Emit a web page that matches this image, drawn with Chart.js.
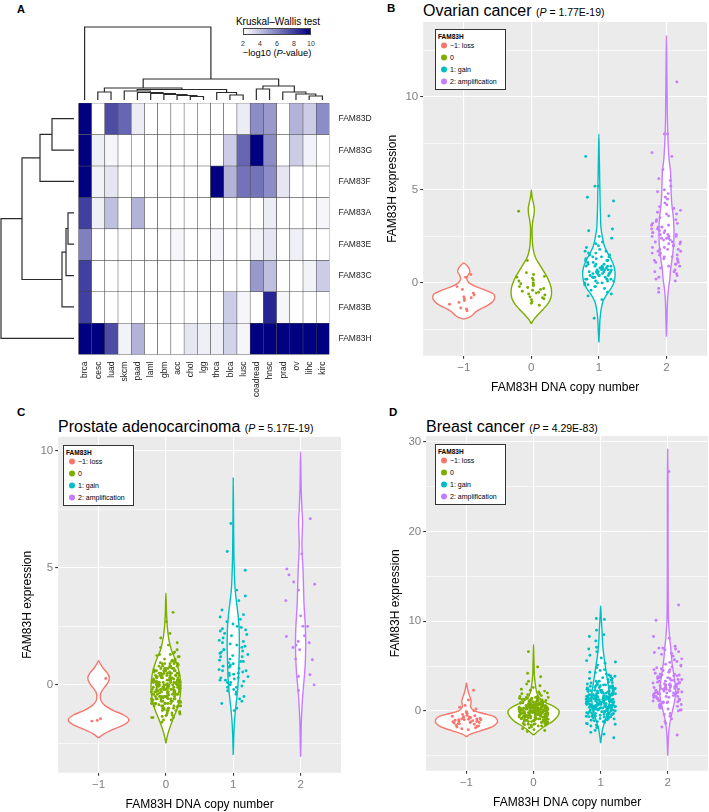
<!DOCTYPE html>
<html><head><meta charset="utf-8"><title>FAM83 figure</title>
<script src="https://cdn.jsdelivr.net/npm/chart.js@4.4.1/dist/chart.umd.min.js"></script>
<style>
html,body{margin:0;padding:0;background:#fff}
body{position:relative;width:709px;height:812px;overflow:hidden;font-family:"Liberation Sans",Arial,Helvetica,sans-serif;color:#000}
canvas{position:absolute;left:0;top:0}
.txt{position:absolute;white-space:nowrap;line-height:1}
.letter{font-weight:bold}
.legend{position:absolute;background:#fff;border:1px solid #333;box-sizing:border-box}
.lgt{position:absolute;left:2px;top:4px;font-size:6.5px;font-weight:bold;line-height:1}
.lgi{position:absolute;left:5px;font-size:7px;line-height:1;transform:translateY(-50%);white-space:nowrap}
.dot{display:inline-block;width:6px;height:6px;border-radius:50%;margin-right:3px;vertical-align:middle;position:relative;top:-1px}
.cbar{position:absolute;left:243px;top:28px;width:68px;height:7px;box-sizing:border-box;border:1px solid #444;background:linear-gradient(to right,#ffffff,#000080)}
.cb{transform:translateX(-50%)}
</style></head><body>

<div class="txt letter" style="left:17px;top:4px;font-size:11px">A</div>
<div class="txt letter" style="left:387px;top:2.5px;font-size:11.5px">B</div>
<div class="txt letter" style="left:17px;top:406.5px;font-size:11.5px">C</div>
<div class="txt letter" style="left:389px;top:406.5px;font-size:11.5px">D</div>

<div class="txt" style="left:423px;top:3px"><span style="font-size:16px">Ovarian cancer</span> <span style="font-size:10.5px">(<i>P</i> = 1.77E-19)</span></div>
<div class="txt" style="left:58px;top:418.6px"><span style="font-size:16px">Prostate adenocarcinoma</span> <span style="font-size:10.5px">(<i>P</i> = 5.17E-19)</span></div>
<div class="txt" style="left:426px;top:418.6px"><span style="font-size:16px">Breast cancer</span> <span style="font-size:10.5px">(<i>P</i> = 4.29E-83)</span></div>

<div class="txt cb" style="left:278px;top:17px;font-size:10px">Kruskal–Wallis test</div>
<div class="cbar"></div>
<div id="cbticks"></div>
<div class="txt cb" style="left:277px;top:49px;font-size:9.3px">−log10 (<i>P</i>-value)</div>

<canvas id="dendTop" width="251" height="75"></canvas>
<canvas id="dendLeft" width="74" height="251"></canvas>
<canvas id="heat" width="320" height="320"></canvas>
<canvas id="ovarian" width="340" height="390"></canvas>
<canvas id="prostate" width="340" height="390"></canvas>
<canvas id="breast" width="340" height="390"></canvas>

<script>
// ---------------- DATA ----------------
const heatColumns = ['brca','cesc','luad','skcm','paad','laml','gbm','acc','chol','lgg','thca','blca','lusc','coadread','hnsc','prad','ov','lihc','kirc'];
const heatRows = ['FAM83D','FAM83G','FAM83F','FAM83A','FAM83E','FAM83C','FAM83B','FAM83H'];
// -log10(P-value) of Kruskal-Wallis test, per gene (row) and cancer type (column)
const fam83D = [10, 2, 7.6, 6.8, 2.6, 2, 2, 2, 2, 2, 2, 2, 2.6, 5.6, 5.2, 2, 4.4, 3.6, 5.6];
const fam83G = [10, 2.5, 2.3, 2, 2, 2, 2, 2, 2, 2, 2, 3.6, 6.8, 10, 5.6, 2, 3.6, 2.4, 2];
const fam83F = [10, 2.4, 2.8, 2, 2, 2, 2, 2, 2, 2, 10, 4.4, 6.4, 6.4, 5.6, 2.8, 2, 2, 2];
const fam83A = [8, 2.5, 4, 2, 4.4, 2, 2, 2, 2, 2, 2, 2, 2, 2, 2.6, 2, 2, 2, 2.3];
const fam83E = [6, 2, 2, 2, 2, 2, 2, 2.3, 2, 2, 2.3, 2, 2, 2.4, 2.8, 2, 2.5, 2, 2];
const fam83C = [8, 2, 2, 2, 2, 2, 2, 2, 2, 2, 2, 2, 2, 5.2, 4, 2, 2, 2.4, 3.6];
const fam83B = [8, 2, 2, 2, 2, 2, 2, 2, 2, 2, 2, 3.6, 2.3, 2, 8.8, 2.3, 2, 2, 2];
const fam83H = [10, 10, 7.6, 2.4, 4.4, 2, 2, 2, 2.8, 2.5, 2.5, 3.4, 2.3, 10, 10, 10, 10, 10, 10];
const colorbarTicks = [2, 4, 6, 8, 10];
// dendrogram merges: [childA, childB, height]; child >= 0 is a leaf index, child < 0 is merge number -(k+1)
const columnMerges = [[17,18,4],[16,-1,6],[15,-2,8],[13,14,11],[-4,-3,14],[11,12,5],[10,-6,7.5],[8,9,3.5],[7,-8,4.5],[6,-9,5.5],[5,-10,6.5],[4,-11,7.5],[3,-12,9],[-13,-7,10.5],[1,2,8],[-15,-14,12],[-16,-5,21],[0,-17,73]];
const rowMerges = [[0,1,22],[-1,2,34],[3,4,6],[-3,5,8],[-4,6,12],[-2,-5,52],[-6,7,73]];

const copyNumbers = [-1, 0, 1, 2];
const groupLabels = ['\u22121: loss', '0', '1: gain', '2: amplification'];

// ---- Ovarian cancer (B): FAM83H expression per copy-number group ----
const ovarianLoss = [0.45,0.3,-0.35,-0.2,-0.55,-0.8,-0.75,-0.95,-0.85,-1.15,-1.4,-1.5,-1.35,-0.65,-1.05];
const ovarianNeutral = [3.85,1.2,0.55,0.35,0.25,0.15,0.0,-0.1,-0.15,-0.25,-0.3,-0.35,-0.45,-0.5,-0.55,-0.65,-0.75,-0.85,-0.9,-1.0,-1.1,-0.2,0.1,-0.6,-0.8,0.45,-0.05,-0.4,-1.2,0.3];
const ovarianGain = [0.6,1.4,0.2,2.2,0.9,-0.3,1.1,0.5,6.8,0.3,1.7,0.8,-0.1,1.3,0.4,5.2,0.7,2.8,0.0,1.0,0.5,-0.5,1.5,0.6,0.2,4.4,0.9,1.2,-0.2,0.8,3.6,0.4,1.6,0.1,0.7,2.4,-0.7,1.0,0.3,5.2,0.6,1.9,0.2,-0.4,1.3,0.5,0.9,2.1,0.0,1.1,0.4,-0.9,0.7,1.5,0.3,4.6,0.8,1.8,0.1,-0.2,1.2,0.6,2.9,0.5,0.9,-1.9,1.4,0.2,0.7,1.7,0.3,2.5,0.4,-0.6,1.0,0.8,0.1,1.6,0.6,-0.1,0.5,1.2,0.9,0.3,1.4,0.7,2.0,0.0];
const ovarianAmp = [2.5,1.8,3.2,0.6,4.1,2.2,1.4,2.9,3.7,0.9,2.0,5.5,1.6,2.7,3.0,0.3,4.6,2.4,1.1,3.4,8.0,2.1,1.9,0.7,2.8,3.9,1.3,2.6,4.8,-0.5,2.3,1.7,3.1,0.5,5.2,2.0,1.5,3.6,2.9,1.0,4.3,2.5,0.8,3.3,1.2,6.8,2.2,1.8,3.0,0.2,4.0,2.7,1.6,3.5,2.4,7.0,1.4,2.6,0.9,5.0,3.2,1.9,2.1,0.4,4.5,2.8,1.3,3.8,10.8,2.3,1.1,3.1,0.6,2.0,5.6,1.7,2.9,8.0,3.4,1.5,2.5,-0.3,4.2,2.2,1.0,3.7,2.6,0.1,6.1,1.8,2.4,3.0,1.2,4.9,2.7];
// violin outlines: [expression, half-width in copy-number units]
const ovarianViolinLoss = [[-1.95,0],[-1.85,0.08],[-1.7,0.14],[-1.55,0.18],[-1.4,0.25],[-1.2,0.36],[-1.0,0.43],[-0.8,0.46],[-0.6,0.44],[-0.4,0.33],[-0.2,0.18],[0,0.08],[0.2,0.045],[0.4,0.06],[0.6,0.09],[0.8,0.075],[0.95,0.04],[1.07,0]];
const ovarianViolinNeutral = [[-2.2,0],[-2.0,0.03],[-1.7,0.1],[-1.4,0.18],[-1.1,0.25],[-0.8,0.29],[-0.5,0.3],[-0.2,0.29],[0.1,0.26],[0.4,0.22],[0.7,0.17],[1.0,0.12],[1.3,0.07],[1.6,0.04],[2.0,0.02],[2.5,0.012],[3.0,0.012],[3.4,0.025],[3.7,0.04],[4.0,0.045],[4.3,0.03],[4.6,0.012],[5.0,0]];
const ovarianViolinGain = [[-3.2,0],[-2.5,0.01],[-2.0,0.015],[-1.5,0.03],[-1.0,0.06],[-0.6,0.12],[-0.3,0.18],[0,0.22],[0.4,0.24],[0.8,0.23],[1.2,0.19],[1.6,0.13],[2.0,0.08],[2.5,0.05],[3.0,0.03],[3.5,0.025],[4.0,0.02],[5.0,0.015],[6.0,0.01],[7.0,0.005],[8.0,0]];
const ovarianViolinAmp = [[-2.9,0],[-2,0.008],[-1,0.015],[-0.3,0.03],[0.2,0.05],[0.7,0.06],[1.2,0.08],[1.8,0.1],[2.4,0.11],[3.0,0.11],[3.6,0.1],[4.2,0.08],[4.8,0.07],[5.4,0.065],[6.0,0.06],[6.6,0.04],[7.5,0.025],[8.5,0.015],[10,0.01],[11.5,0.006],[13.3,0]];

// ---- Prostate adenocarcinoma (C) ----
const prostateLoss = [0.27,-1.45,-1.52,-1.55];
const prostateNeutral = [-0.1,0.4,-0.6,0.2,-1.1,0.0,0.7,-0.3,-0.8,0.3,1.2,-0.4,0.1,-1.4,0.5,-0.2,0.9,-0.7,0.0,-0.5,
0.6,-0.9,0.2,-0.1,1.5,-0.3,0.4,-1.2,0.1,-0.6,0.8,-0.2,-1.0,0.3,0.0,-0.4,1.1,-0.8,0.5,-0.1,
-1.5,0.2,-0.5,0.7,-0.3,0.1,-0.9,1.3,-0.2,0.4,-0.7,0.0,0.6,-1.1,0.2,-0.4,0.9,-0.6,0.3,-0.1,
1.8,-0.8,0.1,-0.3,0.5,-1.3,0.0,0.7,-0.5,0.2,-0.2,1.0,-0.9,0.4,-0.1,-0.6,0.3,-1.0,0.8,0.1,
-0.4,0.6,-0.7,0.0,1.4,-0.2,0.2,-1.2,0.5,-0.3,0.9,-0.8,0.1,-0.5,0.3,-1.4,0.7,-0.1,0.4,-0.6,
2.0,-0.3,0.0,-0.9,0.5,-0.1,1.2,-0.7,0.2,-0.4,0.8,-1.1,0.3,-0.2,0.6,-0.5,0.1,-1.6,1.0,-0.8,
0.4,-0.1,0.7,-0.6,0.0,-1.0,0.3,-0.3,1.6,-0.9,0.2,-0.4,0.5,-0.7,0.1,-1.3,0.9,-0.2,0.6,-0.5,
-0.1,1.1,-0.8,0.3,-0.3,0.0,-1.2,0.7,-0.6,0.2,2.2,-0.4,0.4,-0.9,0.1,-0.2,0.8,-1.5,0.5,-0.7,
0.2,-0.5,1.3,-0.1,0.0,-1.0,0.6,-0.3,0.3,-0.8,0.9,-0.6,0.1,-1.1,0.4,-0.2,1.7,-0.4,0.0,-0.9,
0.5,-0.7,0.2,-1.3,0.8,-0.1,0.3,-0.5,1.0,-0.3,0.1,-1.4,0.6,-0.8,0.0,-0.2,2.7,-0.6,0.4,-1.0,
-0.15,0.35,-0.65,0.15,-1.05,0.05,0.75,-0.35,-0.85,0.25,1.25,-0.45,0.12,-1.25,0.55,-0.25,0.95,-0.75,-0.05,-0.55,
3.1,0.45,-0.95,0.65,-0.15,1.35,-0.55,0.05,-1.15,0.85,-0.35,0.25,-0.75,1.05,-0.05,0.15,-0.45,-1.35,0.55,-0.25];
const prostateGain = [6.9,5.7,4.9,4.05,3.8,3.6,3.2,3.0,2.9,2.7,2.8,2.5,2.4,2.3,2.2,2.6,2.1,2.0,1.9,1.8,1.7,1.6,1.5,1.5,1.4,1.3,1.2,1.2,1.1,1.0,1.0,0.9,0.8,0.8,0.7,0.6,0.6,0.5,0.5,0.4,0.3,0.3,0.2,0.2,0.1,0.1,0.0,0.0,-0.1,-0.1,-0.2,-0.3,-0.4,-0.5,-0.6,-0.8,-1.0,-1.1,0.35,0.75,1.35,1.65,2.15,0.15,-0.05,0.95,1.85,2.45,0.55,1.05,-0.25,0.45,1.45,2.35,0.85,0.25,-0.7,1.75,1.25,0.65];
const prostateAmp = [7.1,5.6,4.95,4.7,4.4,4.3,4.05,3.6,2.95,2.5,2.5,2.1,2.07,1.85,1.7,1.6,1.5,1.1,1.07,0.43,0.36,0.0,-0.24,1.8];
const prostateViolinLoss = [[-2.27,0],[-2.1,0.08],[-1.9,0.22],[-1.7,0.38],[-1.5,0.45],[-1.3,0.38],[-1.1,0.22],[-0.9,0.1],[-0.7,0.04],[-0.5,0.025],[-0.3,0.04],[-0.1,0.09],[0.1,0.14],[0.3,0.16],[0.5,0.13],[0.7,0.07],[0.9,0.025],[1.03,0]];
const prostateViolinNeutral = [[-2.5,0],[-2.2,0.02],[-1.9,0.05],[-1.5,0.1],[-1.0,0.17],[-0.5,0.21],[0,0.22],[0.5,0.2],[1.0,0.15],[1.5,0.08],[2.0,0.04],[2.5,0.02],[3.0,0.01],[3.5,0.005],[3.93,0]];
const prostateViolinGain = [[-3.0,0],[-2.5,0.005],[-2.0,0.01],[-1.5,0.02],[-1.0,0.035],[-0.5,0.055],[0,0.07],[0.5,0.08],[1.0,0.085],[1.5,0.09],[2.0,0.09],[2.5,0.085],[3.0,0.07],[3.5,0.05],[4.0,0.03],[4.5,0.02],[5.5,0.01],[7,0.005],[8.85,0]];
const prostateViolinAmp = [[-3.07,0],[-2.5,0.005],[-2,0.008],[-1.5,0.012],[-1,0.02],[-0.5,0.03],[0,0.045],[0.5,0.06],[1.0,0.07],[1.5,0.075],[2.0,0.075],[2.5,0.07],[3.0,0.06],[3.5,0.05],[4.0,0.045],[4.5,0.04],[5.0,0.035],[5.5,0.025],[6.0,0.02],[6.5,0.025],[7.0,0.03],[7.5,0.02],[8.5,0.008],[9.96,0]];

// ---- Breast cancer (D) ----
const breastLoss = [2.3,1.2,0.6,0.4,0.2,0.0,-0.2,-0.3,-0.5,-0.6,-0.7,-0.8,-0.8,-0.9,-0.9,-1.0,-1.0,-1.0,-1.1,-1.1,-1.2,-1.2,-1.3,-1.3,-1.4,-1.5,-1.6,-1.7,-1.8,-2.0,-2.1,-0.4,-0.65,-0.95,-1.05,-1.25,-0.85,-1.15,-1.45,-0.55,-1.75,-0.75,-1.35,-0.1,-1.9];
const breastNeutral = [0.1,-0.5,0.8,-1.2,0.3,-0.1,1.5,-0.8,0.5,0.0,-1.6,0.9,-0.3,0.2,1.2,-0.6,0.4,-1.0,0.7,-0.2,
0.0,1.9,-0.9,0.3,-0.4,0.6,-1.4,0.1,1.1,-0.7,0.4,-0.1,2.3,-1.1,0.2,-0.5,0.8,-0.2,1.4,-1.8,
0.5,-0.3,0.0,1.0,-0.8,0.2,-1.3,0.7,-0.1,1.6,-0.6,0.3,-2.0,0.9,-0.4,0.1,1.3,-1.0,0.6,0.0,
-0.7,2.6,0.2,-0.2,0.8,-1.5,0.4,-0.9,1.2,0.0,-0.3,0.5,-1.2,1.8,-0.5,0.3,-0.1,1.0,-2.2,0.6,
0.1,-0.6,1.4,-0.4,0.7,-1.1,0.2,2.0,-0.8,0.4,-0.2,0.9,-1.7,0.0,1.1,-0.5,0.5,-1.3,0.3,-0.1,
6.6,0.6,-0.9,1.5,-0.3,0.2,-1.4,0.8,-0.6,0.0,3.0,-1.0,0.4,-0.2,1.2,-0.7,0.1,-1.9,0.9,-0.4,
0.3,1.7,-1.2,0.5,-0.1,-0.8,1.0,0.2,-1.5,0.7,-0.3,2.4,-0.6,0.0,1.3,-1.1,0.4,-0.2,0.8,-2.3,
-0.4,0.6,1.6,-0.9,0.1,-0.5,0.9,-1.3,0.3,0.0,4.9,-0.7,1.1,-0.2,0.5,-1.6,0.2,2.1,-1.0,0.7,
0.0,-0.3,1.4,-0.8,0.4,-1.2,0.6,-0.1,1.9,-0.6,0.2,-1.7,0.8,-0.4,0.1,3.3,-0.9,0.5,-0.2,1.0,
-1.4,0.3,0.0,-0.5,1.2,-1.0,0.7,4.2,-0.3,0.2,-1.1,0.9,-0.7,0.4,1.5,-0.1,-2.1,0.6,0.1,-0.6,
0.15,-0.45,0.85,-1.15,0.35,-0.05,1.55,-0.75,0.55,0.05,-1.55,0.95,-0.25,0.25,1.25,-0.65,0.45,-0.95,0.75,-0.15,
3.8,0.05,2.2,-0.85,0.35,-0.35,0.65,-1.45,0.15,1.15,-0.55,0.45,-0.05,2.8,-1.05,0.25,-0.45,0.85,1.45,-1.25];
const breastGain = [1.2,0.3,2.5,-0.4,1.8,0.8,3.6,0.0,1.5,-1.1,2.1,0.5,4.3,1.0,-0.6,2.8,0.2,1.4,5.6,0.7,
-0.2,1.9,0.4,3.1,1.1,-1.5,2.4,0.6,1.6,-0.8,3.9,0.9,0.1,2.2,1.3,-0.3,6.2,0.5,1.7,-1.9,
2.9,0.8,1.2,-0.5,2.0,0.3,4.8,1.5,-0.1,2.6,0.7,1.0,-1.2,3.4,0.4,1.8,-0.7,2.3,0.0,7.1,
1.4,0.6,-0.9,2.7,1.1,0.2,3.8,-0.4,1.6,0.9,-2.2,2.1,0.5,1.3,5.1,-0.1,2.5,0.8,1.0,-1.4,
3.3,0.3,1.7,-0.6,2.0,0.7,4.5,1.2,-0.3,2.8,0.1,1.5,-1.0,3.0,0.9,1.9,8.5,0.4,2.3,-0.2,
1.1,-1.7,2.6,0.6,1.4,-0.5,3.7,0.2,1.8,0.8,-0.8,2.2,1.0,5.9,0.3,1.6,-0.1,2.9,0.5,1.3,
-1.3,4.1,0.7,2.0,-0.4,1.2,0.0,3.2,1.5,-2.6,2.4,0.4,1.7,0.9,6.6,-0.7,2.1,0.6,1.0,3.5,
0.2,1.4,-1.1,2.7,0.8,1.9,-0.2,4.0,1.1,0.5,-0.9,2.3,1.6,10.3,0.1,2.8,-0.5,1.3,0.7,3.1,
1.8,-1.6,0.3,2.5,1.0,-0.3,4.6,0.6,1.5,-0.7,2.0,0.9,7.8,1.2,-1.2,3.3,0.4,1.7,0.0,2.2,
0.8,5.3,-0.6,1.4,2.6,0.2,-1.8,1.9,0.5,3.6,1.1,-0.1,2.4,0.7,9.0,1.6,-0.4,2.9,0.3,1.3,
1.25,0.35,2.55,-0.45,1.85,0.85,3.45,0.05,1.55,-1.05,2.15,0.55,4.25,1.05,-0.65,2.75,0.25,1.45,5.45,0.75,
-0.25,1.95,0.45,3.15,1.15,-1.45,2.45,0.65,1.65,-0.85,3.85,0.95,0.15,2.25,1.35,10.2,6.9,8.3,-3.0,-2.4];
const breastAmp = [3.0,1.5,4.6,2.2,0.4,5.8,2.8,1.1,3.7,-0.6,2.5,6.4,1.8,3.3,0.9,4.1,2.0,7.0,1.3,3.9,
2.6,0.1,5.2,2.9,1.6,3.5,-1.2,4.4,2.3,0.7,6.8,2.1,3.1,1.0,4.9,2.7,0.3,3.6,1.9,5.5,
2.4,-0.3,4.0,3.2,1.2,6.1,2.0,0.8,3.8,1.4,7.2,2.6,-1.8,4.7,2.2,1.7,3.4,0.5,5.0,2.9,
11.8,1.5,3.0,0.0,4.3,2.5,6.6,1.1,3.5,-0.9,2.1,5.4,1.8,4.1,2.8,0.6,3.3,26.7,1.3,2.4,
8.3,3.7,0.2,4.8,2.0,1.6,6.3,2.7,-0.4,3.1,1.0,4.5,2.3,7.0,1.9,3.9,0.9,10.1,2.6,-2.7,
3.4,1.4,5.7,2.1,0.4,4.2,2.9,8.1,1.7,3.2,0.7,6.9,2.5,1.2,3.6,-1.4,4.6,2.2,1.9,3.0,
0.1,5.1,2.8,1.6,3.8,2.4,6.5,1.0,4.0,2.0];
const breastViolinLoss = [[-2.9,0],[-2.6,0.06],[-2.2,0.22],[-1.8,0.38],[-1.4,0.45],[-1.0,0.46],[-0.6,0.4],[-0.3,0.25],[0,0.12],[0.3,0.07],[0.6,0.06],[1.0,0.07],[1.4,0.06],[1.9,0.035],[2.5,0.015],[3.1,0]];
const breastViolinNeutral = [[-2.7,0],[-2.3,0.06],[-1.8,0.15],[-1.2,0.28],[-0.6,0.36],[0,0.38],[0.5,0.3],[1.0,0.16],[1.5,0.08],[2.0,0.05],[2.5,0.035],[3.0,0.025],[4,0.012],[5,0.008],[6,0.005],[7.4,0]];
const breastViolinGain = [[-3.6,0],[-3,0.01],[-2,0.03],[-1,0.07],[0,0.11],[1,0.13],[2,0.13],[3,0.11],[4,0.09],[5,0.07],[6,0.05],[7,0.035],[8,0.025],[9,0.02],[10,0.012],[11,0.005],[11.7,0]];
const breastViolinAmp = [[-5,0],[-4,0.005],[-3,0.01],[-2,0.02],[-1,0.04],[0,0.07],[1,0.1],[2,0.12],[3,0.11],[4,0.09],[5,0.07],[6,0.055],[7,0.045],[8,0.03],[9,0.02],[10,0.012],[12,0.008],[15,0.006],[20,0.005],[25,0.005],[29.2,0]];

// ---------------- RENDERING ----------------
Chart.defaults.font.family = '"Liberation Sans", Arial, Helvetica, sans-serif';
const ggColors = ['#F8766D', '#7CAE00', '#00BFC4', '#C77CFF'];
const heatValues = [fam83D, fam83G, fam83F, fam83A, fam83E, fam83C, fam83B, fam83H];

function heatColor(v) {
  const t = Math.max(0, Math.min(1, (v - 2) / 8));
  const r = Math.round(255 * (1 - t)), g = Math.round(255 * (1 - t)), b = Math.round(255 + (128 - 255) * t);
  return `rgb(${r},${g},${b})`;
}

function build(id, cfgFn, area) {
  const cv = document.getElementById(id);
  let ch = new Chart(cv, cfgFn());
  const a = ch.chartArea;
  const w = Math.round(cv.width + area.w - (a.right - a.left));
  const h = Math.round(cv.height + area.h - (a.bottom - a.top));
  ch.destroy();
  cv.width = w; cv.height = h; cv.style.width = w + 'px'; cv.style.height = h + 'px';
  ch = new Chart(cv, cfgFn());
  const b = ch.chartArea;
  cv.style.left = (area.l - b.left) + 'px';
  cv.style.top = (area.t - b.top) + 'px';
  return ch;
}

const baseOpts = () => ({
  responsive: false, maintainAspectRatio: false, animation: false, events: [],
  layout: { padding: 0 },
  plugins: { legend: { display: false }, tooltip: { enabled: false }, title: { display: false } }
});

// dendrogram elbows from merge list
function dendroSegments(merges) {
  const pos = [], hgt = [], segs = [];
  const nx = r => r >= 0 ? r : pos[-r - 1];
  const nh = r => r >= 0 ? 0 : hgt[-r - 1];
  merges.forEach(([a, b, h], k) => {
    const xa = nx(a), xb = nx(b);
    segs.push([[xa, nh(a)], [xa, h], [xb, h], [xb, nh(b)]]);
    pos[k] = (xa + xb) / 2; hgt[k] = h;
  });
  return segs;
}
function dendroDatasets(merges, horizontal) {
  return dendroSegments(merges).map(seg => ({
    data: seg.map(([p, h]) => horizontal ? { x: h, y: p } : { x: p, y: h }),
    showLine: true, borderColor: '#2b2b2b', borderWidth: 1.2, pointRadius: 0, tension: 0, fill: false
  }));
}

build('dendTop', () => {
  const o = baseOpts();
  o.scales = { x: { type: 'linear', display: false, min: -0.5, max: heatColumns.length - 0.5 },
               y: { type: 'linear', display: false, min: 0, max: 75 } };
  return { type: 'scatter', data: { datasets: dendroDatasets(columnMerges, false) }, options: o };
}, { l: 78, t: 25, w: 251, h: 75 });

build('dendLeft', () => {
  const o = baseOpts();
  o.scales = { x: { type: 'linear', display: false, min: 0, max: 74, reverse: true },
               y: { type: 'linear', display: false, min: -0.5, max: heatRows.length - 0.5, reverse: true } };
  return { type: 'scatter', data: { datasets: dendroDatasets(rowMerges, true) }, options: o };
}, { l: 0, t: 103, w: 74, h: 251 });

build('heat', () => {
  const o = baseOpts();
  o.scales = {
    x: { stacked: true, grid: { display: false, drawTicks: false }, border: { display: false },
         ticks: { minRotation: 90, maxRotation: 90, padding: 7, color: '#222', font: { size: 8.5 }, autoSkip: false } },
    y: { stacked: true, position: 'right', min: 0, max: heatRows.length, reverse: true,
         grid: { display: false, drawTicks: false }, border: { display: false },
         afterBuildTicks: s => { s.ticks = heatRows.map((_, i) => ({ value: i + 0.5 })); },
         ticks: { padding: 9, color: '#222', font: { size: 8.5 }, autoSkip: false, callback: (v, i) => heatRows[i] } }
  };
  return {
    type: 'bar',
    data: { labels: heatColumns, datasets: heatRows.map((r, ri) => ({
      label: r, data: heatColumns.map(() => 1), backgroundColor: heatValues[ri].map(heatColor),
      borderColor: '#454545', borderWidth: 0.55, borderSkipped: false, barPercentage: 1, categoryPercentage: 1 })) },
    options: o
  };
}, { l: 78, t: 103, w: 251, h: 251 });

// colour bar tick labels
(function () {
  const host = document.getElementById('cbticks');
  colorbarTicks.forEach(v => {
    const d = document.createElement('div');
    d.className = 'txt cb';
    d.style.cssText = `left:${243 + (v - 2) / 8 * 68}px;top:39.5px;font-size:7px;color:#333`;
    d.textContent = v;
    host.appendChild(d);
  });
})();

const panelBg = { id: 'panelBg', beforeDraw(chart) {
  const { ctx, chartArea: a } = chart;
  ctx.save(); ctx.fillStyle = '#EBEBEB'; ctx.fillRect(a.left, a.top, a.right - a.left, a.bottom - a.top); ctx.restore();
} };

function jitter(i, g) {
  const s = Math.sin((i + 1) * 12.9898 + (g + 1) * 78.233) * 43758.5453;
  return ((s - Math.floor(s)) - 0.5) * 0.44;
}

function violinPanel(id, area, yMin, yMax, majors, minors, groups, violins) {
  const yTicks = majors.concat(minors).sort((a, b) => a - b);
  build(id, () => {
    const datasets = [];
    violins.forEach((prof, g) => {
      const cn = copyNumbers[g];
      const right = prof.map(([y, w]) => ({ x: cn + w, y }));
      const left = prof.slice(0, -1).reverse().map(([y, w]) => ({ x: cn - w, y }));
      datasets.push({ data: right.concat(left), showLine: true, fill: 'shape', backgroundColor: '#ffffff',
        borderColor: ggColors[g], borderWidth: 1.4, pointRadius: 0, tension: 0.3, order: 2 });
    });
    groups.forEach((vals, g) => {
      datasets.push({ data: vals.map((y, i) => ({ x: copyNumbers[g] + jitter(i, g), y })), pointRadius: 1.45,
        backgroundColor: ggColors[g], borderWidth: 0, showLine: false, order: 1 });
    });
    const o = baseOpts();
    o.scales = {
      x: { type: 'linear', min: -1.6, max: 2.6,
           afterBuildTicks: s => { s.ticks = copyNumbers.map(v => ({ value: v })); },
           ticks: { color: '#808080', font: { size: 11.5 }, padding: 2, autoSkip: false,
                    callback: v => v < 0 ? '\u2212' + Math.abs(v) : String(v) },
           grid: { color: '#ffffff', lineWidth: 1.1, tickColor: '#333', tickLength: 3 },
           border: { display: false },
           title: { display: true, text: 'FAM83H DNA copy number', color: '#000', font: { size: 12 }, padding: { top: 4, bottom: 0 } } },
      y: { type: 'linear', min: yMin, max: yMax,
           afterBuildTicks: s => { s.ticks = yTicks.map(v => ({ value: v })); },
           ticks: { color: '#808080', font: { size: 11.5 }, padding: 2, autoSkip: false,
                    callback: v => majors.includes(v) ? String(v) : '' },
           grid: { color: '#ffffff', lineWidth: c => (c.tick && majors.includes(c.tick.value)) ? 1.1 : 0.55,
                   tickColor: c => (c.tick && majors.includes(c.tick.value)) ? '#333' : 'rgba(0,0,0,0)', tickLength: 3 },
           border: { display: false },
           title: { display: true, text: 'FAM83H expression', color: '#000', font: { size: 12 }, padding: { top: 0, bottom: 4 } } }
    };
    return { type: 'scatter', data: { datasets }, options: o, plugins: [panelBg] };
  }, area);
}

violinPanel('ovarian', { l: 423, t: 22, w: 284, h: 334 }, -3.92, 14.03, [0, 5, 10], [-2.5, 2.5, 7.5, 12.5],
  [ovarianLoss, ovarianNeutral, ovarianGain, ovarianAmp],
  [ovarianViolinLoss, ovarianViolinNeutral, ovarianViolinGain, ovarianViolinAmp]);
violinPanel('prostate', { l: 58, t: 437, w: 283, h: 336 }, -3.76, 10.6, [0, 5, 10], [-2.5, 2.5, 7.5],
  [prostateLoss, prostateNeutral, prostateGain, prostateAmp],
  [prostateViolinLoss, prostateViolinNeutral, prostateViolinGain, prostateViolinAmp]);
violinPanel('breast', { l: 426, t: 436, w: 282, h: 335 }, -6.69, 30.67, [0, 10, 20, 30], [-5, 5, 15, 25],
  [breastLoss, breastNeutral, breastGain, breastAmp],
  [breastViolinLoss, breastViolinNeutral, breastViolinGain, breastViolinAmp]);

// legends (HTML text)
function addLegend(left, top) {
  const box = document.createElement('div');
  box.className = 'legend';
  box.style.cssText = `left:${left}px;top:${top}px;width:71px;height:61px`;
  let html = '<div class="lgt">FAM83H</div>';
  groupLabels.forEach((lab, i) => {
    html += `<div class="lgi" style="top:${16 + 12 * i}px"><span class="dot" style="background:${ggColors[i]}"></span>${lab}</div>`;
  });
  box.innerHTML = html;
  document.body.appendChild(box);
}
addLegend(435, 29);
addLegend(63, 445);
addLegend(435, 444);
</script>
</body></html>
